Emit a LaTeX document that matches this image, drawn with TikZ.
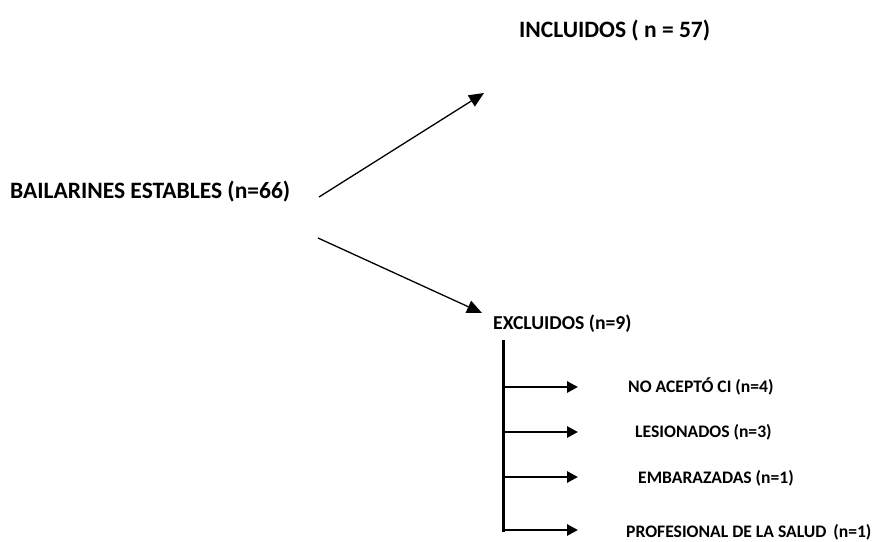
\documentclass[tikz,border=0pt]{standalone}
\usepackage{fontspec}
\setmainfont{Carlito}
\usetikzlibrary{arrows.meta}
\begin{document}
\begin{tikzpicture}[x=1pt,y=-1pt,
  big/.style={font=\fontsize{23.5}{26}\selectfont\bfseries, anchor=west, inner sep=0pt},
  mid/.style={font=\fontsize{19.7}{22}\selectfont\bfseries, anchor=west, inner sep=0pt},
  small/.style={font=\fontsize{17.6}{20}\selectfont\bfseries, anchor=west, inner sep=0pt},
  thinarrow/.style={line width=1.3pt, -{Triangle[length=15pt,width=13pt]}},
  thickarrow/.style={line width=2.7pt, -{Triangle[length=11pt,width=11pt]}},
  stem/.style={line width=3pt}]
\useasboundingbox (0,0) rectangle (874,541);
\node[big] (bail) at (10,192) {BAILARINES ESTABLES (n=66)};
\node[big] (incl) at (519,31) {INCLUIDOS ( n = 57)};
\node[mid] (excl) at (493,324) {EXCLUIDOS (n=9)};
\node[small] (l1) at (628,386) {NO ACEPTÓ CI (n=4)};
\node[small] (l2) at (635,432) {LESIONADOS (n=3)};
\node[small] (l3) at (638,478) {EMBARAZADAS (n=1)};
\node[small] (l4) at (626,532) {PROFESIONAL DE LA SALUD\ \,(n=1)};
\coordinate (s1) at (319,197);
\coordinate (t1) at (484,93);
\coordinate (s2) at (318,238);
\coordinate (t2) at (482,313);
\draw[thinarrow] (s1) -- (t1);
\draw[thinarrow] (s2) -- (t2);
\coordinate (vtop) at (503,340);
\coordinate (vbot) at (503,531.5);
\draw[stem] (vtop) -- (vbot);
\coordinate (h1) at (503,387);
\coordinate (h2) at (505,432);
\coordinate (h3) at (503,477);
\coordinate (h4) at (503,530);
\coordinate (e1) at (578,387);
\coordinate (e2) at (578,432);
\coordinate (e3) at (578,477);
\coordinate (e4) at (578,530);
\draw[thickarrow] (h1) -- (e1);
\draw[thickarrow] (h2) -- (e2);
\draw[thickarrow] (h3) -- (e3);
\draw[thickarrow] (h4) -- (e4);
\end{tikzpicture}
\end{document}
